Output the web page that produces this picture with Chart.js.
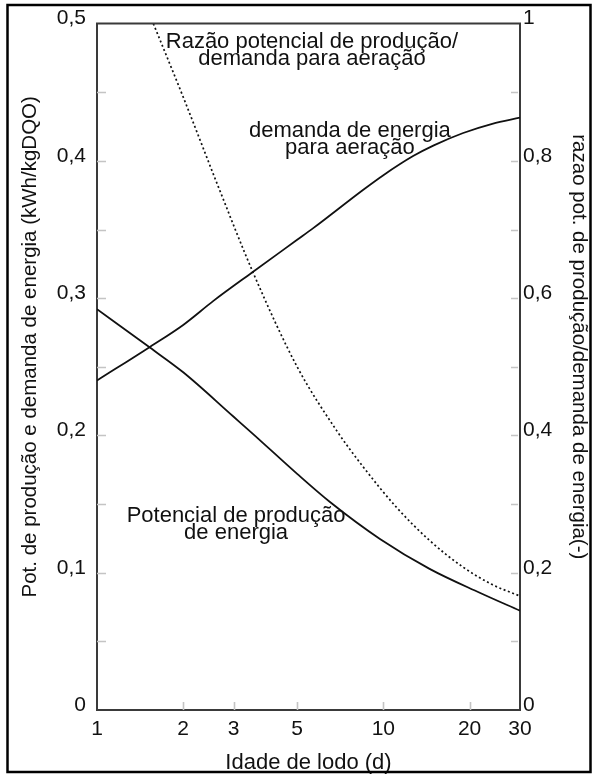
<!DOCTYPE html>
<html><head><meta charset="utf-8">
<script src="https://cdn.jsdelivr.net/npm/chart.js@4/dist/chart.umd.min.js"></script>
<style>html,body{margin:0;padding:0;background:#fff;}</style>
</head><body>
<canvas id="c" width="592" height="774"></canvas>
<script>
// ---- data ----
const sludgeAgeProd = [1, 1.53, 2, 3, 3.51, 5, 6.51, 9.73, 14.5, 21.7, 30];
const productionPotential = [0.292, 0.264, 0.246, 0.2136, 0.201, 0.172, 0.1515, 0.1246, 0.1028, 0.0854, 0.0723];
const sludgeAgeDemand = [1, 1.53, 2, 2.55, 3.47, 5, 5.69, 8.51, 10, 12.7, 15, 19, 24, 30];
const aerationDemand = [0.240, 0.2645, 0.2805, 0.298, 0.3185, 0.3425, 0.351, 0.379, 0.3896, 0.4035, 0.4113, 0.4203, 0.4270, 0.4315];
const sludgeAgeRatio = [1.573, 2, 2.62, 3.51, 5, 6.87, 8.51, 11.1, 14.5, 19, 24, 30];
const ratioValues = [1.0, 0.893, 0.768, 0.637, 0.50, 0.407, 0.354, 0.2955, 0.247, 0.208, 0.1827, 0.166];

const xTickValues = [1, 2, 3, 5, 10, 20, 30];
const leftTickValues = [0, 0.1, 0.2, 0.3, 0.4, 0.5];
const rightTickValues = [0, 0.2, 0.4, 0.6, 0.8, 1];
const leftInnerTicks = [0.05, 0.1, 0.15, 0.2, 0.25, 0.3, 0.35, 0.4, 0.45];
const rightInnerTicks = [0.1, 0.2, 0.3, 0.4, 0.5, 0.6, 0.7, 0.8, 0.9];
const xInnerTicks = [2, 3, 5, 10, 20];

const xTitle = 'Idade de lodo (d)';
const leftTitle = 'Pot. de produção e demanda de energia (kWh/kgDQO)';
const rightTitle = 'razao pot. de produção/demanda de energia(-)';

const annotationLabels = ['Razão potencial de produção/', 'demanda para aeração', 'demanda de energia', 'para aeração', 'Potencial de produção', 'de energia'];
const annotationX = [5.63, 5.63, 7.64, 7.64, 3.06, 3.06];
const annotationY = [0.482, 0.470, 0.4174, 0.4050, 0.1368, 0.1248];

const FONT = '"Liberation Sans", Arial, Helvetica, sans-serif';
const fmt = v => (v === 0 ? '0' : (v === 1 ? '1' : v.toFixed(1).replace('.', ',')));
const pts = (xs, ys) => xs.map((x, i) => ({x: x, y: ys[i]}));

const framePlugin = {
  id: 'frame',
  beforeDraw(chart) {
    const ctx = chart.ctx;
    ctx.save();
    ctx.fillStyle = '#fff';
    ctx.fillRect(0, 0, chart.width, chart.height);
    ctx.restore();
  },
  afterDraw(chart) {
    const ctx = chart.ctx;
    const a = chart.chartArea;
    const sx = chart.scales.x, sy = chart.scales.y, sy2 = chart.scales.y2;
    ctx.save();
    // inner tick marks
    ctx.strokeStyle = '#c4c4c4';
    ctx.lineWidth = 1.6;
    ctx.beginPath();
    leftInnerTicks.forEach(v => { const p = Math.round(sy.getPixelForValue(v)) + 0.5; ctx.moveTo(a.left, p); ctx.lineTo(a.left + 9, p); });
    rightInnerTicks.forEach(v => { const p = Math.round(sy2.getPixelForValue(v)) + 0.5; ctx.moveTo(a.right - 2, p); ctx.lineTo(a.right - 9, p); });
    xInnerTicks.forEach(v => { const p = Math.round(sx.getPixelForValue(v)) + 0.5; ctx.moveTo(p, a.bottom); ctx.lineTo(p, a.bottom - 8); });
    ctx.stroke();
    // top edge of plot
    ctx.strokeStyle = '#3a3a3a';
    ctx.lineWidth = 2;
    ctx.beginPath();
    ctx.moveTo(a.left - 1, a.top);
    ctx.lineTo(a.right + 1, a.top);
    ctx.stroke();
    // outer frame
    ctx.strokeStyle = '#000';
    ctx.lineWidth = 2.5;
    ctx.strokeRect(7.5, 5, 583, 767);
    // vertical axis titles
    ctx.fillStyle = '#111';
    ctx.font = '20.5px ' + FONT;
    ctx.textAlign = 'center';
    ctx.textBaseline = 'middle';
    const midY = (a.top + a.bottom) / 2 - 20;
    ctx.save();
    ctx.translate(30, midY);
    ctx.rotate(-Math.PI / 2);
    ctx.fillText(leftTitle, 0, 0);
    ctx.restore();
    ctx.save();
    ctx.translate(579, midY);
    ctx.rotate(Math.PI / 2);
    ctx.fillText(rightTitle, 0, 0);
    ctx.restore();
    // annotations
    ctx.font = '22px ' + FONT;
    ctx.textBaseline = 'alphabetic';
    annotationLabels.forEach((t, i) => {
      ctx.fillText(t, sx.getPixelForValue(annotationX[i]), sy.getPixelForValue(annotationY[i]));
    });
    ctx.restore();
  }
};

const lineStyle = { borderColor: '#111', pointRadius: 0, cubicInterpolationMode: 'monotone', fill: false };

new Chart(document.getElementById('c'), {
  type: 'line',
  data: {
    datasets: [
      Object.assign({ label: 'Potencial de produção de energia', data: pts(sludgeAgeProd, productionPotential), yAxisID: 'y', borderWidth: 1.8 }, lineStyle),
      Object.assign({ label: 'demanda de energia para aeração', data: pts(sludgeAgeDemand, aerationDemand), yAxisID: 'y', borderWidth: 1.8 }, lineStyle),
      Object.assign({ label: 'Razão potencial de produção/demanda para aeração', data: pts(sludgeAgeRatio, ratioValues), yAxisID: 'y2', borderWidth: 1.7, borderDash: [2, 2.6] }, lineStyle)
    ]
  },
  options: {
    responsive: false,
    animation: false,
    devicePixelRatio: 1,
    layout: { padding: { top: 22, left: 0, right: 0, bottom: 0 } },
    plugins: { legend: { display: false }, tooltip: { enabled: false } },
    scales: {
      x: {
        type: 'logarithmic', position: 'bottom', min: 1, max: 30,
        afterBuildTicks: s => { s.ticks = xTickValues.map(v => ({value: v})); },
        afterFit: s => { s.height = 64; },
        ticks: { callback: v => String(v), color: '#111', font: { family: FONT, size: 21 }, padding: 7, maxRotation: 0, autoSkip: false },
        grid: { display: false, drawTicks: false },
        border: { display: true, color: '#3a3a3a', width: 2 },
        title: { display: true, text: xTitle, color: '#111', font: { family: FONT, size: 22, lineHeight: 1 }, padding: { top: 0, bottom: 0 } }
      },
      y: {
        type: 'linear', position: 'left', min: 0, max: 0.5,
        afterBuildTicks: s => { s.ticks = leftTickValues.map(v => ({value: v})); },
        afterFit: s => { s.width = 97; },
        ticks: { callback: v => fmt(v), color: '#111', font: { family: FONT, size: 21 }, padding: 11, labelOffset: -5 },
        grid: { display: false, drawTicks: false },
        border: { display: true, color: '#3a3a3a', width: 2 }
      },
      y2: {
        type: 'linear', position: 'right', min: 0, max: 1,
        afterBuildTicks: s => { s.ticks = rightTickValues.map(v => ({value: v})); },
        afterFit: s => { s.width = 72; },
        ticks: { callback: v => fmt(v), color: '#111', font: { family: FONT, size: 21 }, padding: 3, labelOffset: -5 },
        grid: { display: false, drawTicks: false },
        border: { display: true, color: '#3a3a3a', width: 2 }
      }
    }
  },
  plugins: [framePlugin]
});
</script>
</body></html>
